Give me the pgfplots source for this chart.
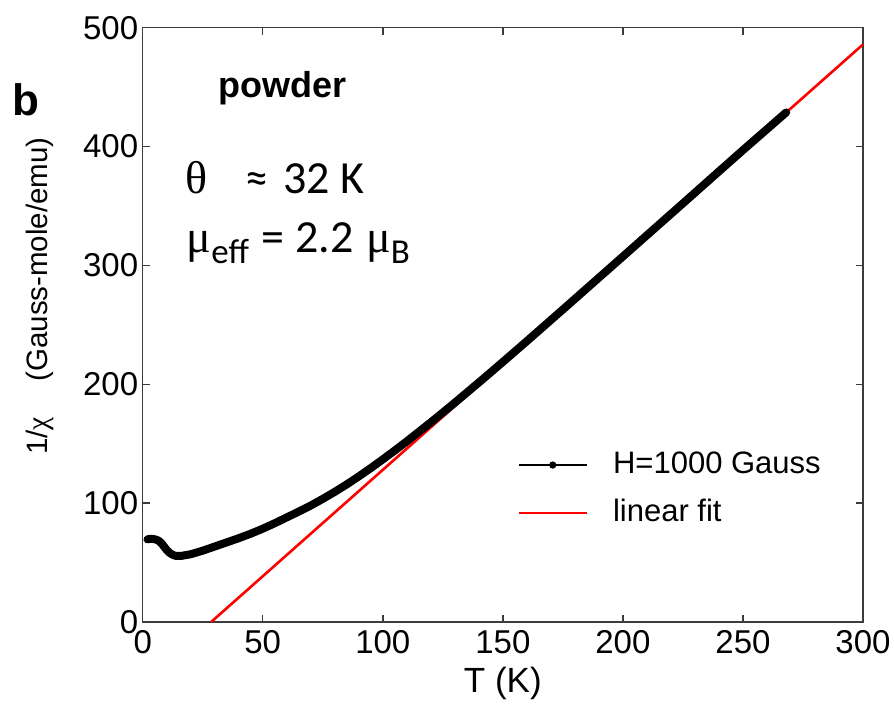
\documentclass[border=0pt]{standalone}
\usepackage{fontspec}
\setmainfont{Liberation Sans}
\newfontfamily\carlito{Carlito}
\newfontfamily\serif{Liberation Serif}
\usepackage{pgfplots}
\pgfplotsset{compat=1.18}
\definecolor{axgray}{RGB}{60,60,60}
\pgfplotstableread{
T v
2 69.5
3 70
4 70
5 69.6
6 69
7 67.8
8 65.8
9 63.2
10 60.6
11 58.6
12 57.1
13 56.1
14 55.6
16 55.6
18 56.3
20 57
25 60
30 63.5
35 67
40 70.5
45 74.3
50 78.5
55 83.1
60 88
65 92.9
70 98
75 103.6
80 109.5
85 115.8
90 122.5
95 129.5
100 136.8
105 144.3
110 152
115 160
120 168
125 176.2
130 184.5
135 193
140 201.5
145 210.1
150 218.8
160 236.3
175 262.9
200 307.5
225 352.2
250 397
268 428.7
}\datablack
\pgfplotstableread{
T v
28.5 0
100 128
200 307
300 485.9
}\datafit
\begin{document}
\begin{tikzpicture}
\begin{axis}[
  scale only axis, width=720.3bp, height=594.3bp,
  xmin=0, xmax=300, ymin=0, ymax=500,
  xtick={0,50,...,300}, ytick={0,100,...,500},
  tick align=inside, major tick length=7bp,
  axis line style={axgray, line width=1.5bp},
  every tick/.style={axgray, line width=1.5bp},
  tick label style={font=\fontsize{33bp}{38bp}\selectfont},
  xticklabel style={yshift=-5bp},
  yticklabel style={xshift=-1bp},
  /pgf/number format/assume math mode=true,
  /pgf/number format/set thousands separator={},
  xlabel={T (K)},
  xlabel style={font=\fontsize{35bp}{40bp}\selectfont, yshift=-6bp},
  clip=false,
  legend style={at={(axis cs:156,144)}, anchor=north west, draw=none, fill=none,
    inner sep=0pt, font=\fontsize{31bp}{37bp}\selectfont,
    nodes={inner sep=0pt, text height=22bp, text depth=6bp},
    /tikz/every odd column/.append style={column sep=25bp},
    row sep=20bp},
  legend cell align=left,
  legend image code/.code={\draw[mark repeat=2,mark phase=2,#1] plot coordinates {(0bp,0bp) (34bp,0bp) (68bp,0bp)};},
]
\addlegendimage{black, line width=1.2bp, mark=*, mark size=3bp}
\addlegendentry{H=1000 Gauss}
\addlegendimage{red, line width=2.6bp}
\addlegendentry{linear fit}
\addplot[red, line width=2.6bp, forget plot] table {\datafit};
\addplot[black, line width=8bp, line join=round, line cap=round, forget plot] table {\datablack};

\node[anchor=base west, inner sep=0pt, font=\bfseries\fontsize{44bp}{52bp}\selectfont] at (axis cs:-54.5,426.4) {b};
\node[anchor=base west, inner sep=0pt, font=\bfseries\fontsize{36bp}{42bp}\selectfont] at (axis cs:31.4,441.3) {powder};
\node[anchor=base west, inner sep=0pt] at (axis cs:17.6,360.8) {{\serif\fontsize{46bp}{52bp}\selectfont θ}\hspace{38bp}{\carlito\fontsize{46bp}{52bp}\selectfont ≈\hspace{5bp} 32 K}};
\node[anchor=base west, inner sep=0pt] at (axis cs:18.3,311.2) {\fontsize{46bp}{52bp}\selectfont{\serif μ}{\carlito\fontsize{35bp}{40bp}\selectfont\raisebox{-11bp}{eff}} {\carlito = 2.2} {\serif μ}{\carlito\fontsize{35bp}{40bp}\selectfont\raisebox{-11bp}{B}}};
\node[rotate=90, inner sep=0pt, font=\fontsize{29.5bp}{34bp}\selectfont] at (rel axis cs:-0.1426,0.5486) {1/{\serif χ}\hspace{1.2em}(Gauss-mole/emu)};
\end{axis}
\pgfresetboundingbox
\path (current axis.south west) ++(-142.7bp,-84bp) rectangle ++(894bp,706bp);
\end{tikzpicture}
\end{document}
